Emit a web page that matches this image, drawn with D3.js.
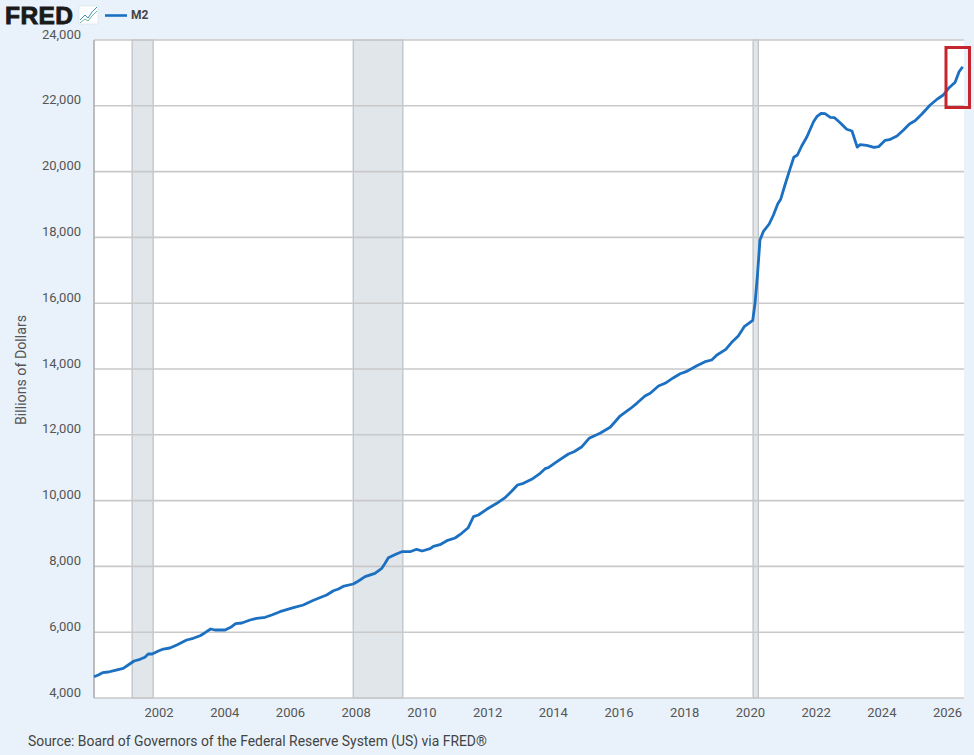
<!DOCTYPE html>
<html><head><meta charset="utf-8">
<script src="https://d3js.org/d3.v7.min.js"></script>
<style>html,body{margin:0;padding:0;background:#e9f2fa;overflow:hidden}svg{display:block;font-family:Roboto,sans-serif}</style>
</head><body><svg id="c" width="974" height="755"></svg>
<script>
const years=[2000.02,2000.15,2000.28,2000.46,2000.66,2000.91,2001.06,2001.24,2001.42,2001.57,2001.67,2001.79,2001.98,2002.13,2002.33,2002.54,2002.84,2003.04,2003.25,2003.40,2003.57,2003.70,2004.01,2004.21,2004.33,2004.52,2004.77,2004.97,2005.23,2005.43,2005.68,2006.09,2006.39,2006.70,2007.10,2007.31,2007.46,2007.63,2007.91,2008.07,2008.27,2008.57,2008.78,2008.88,2008.98,2009.24,2009.39,2009.64,2009.84,2010.01,2010.25,2010.35,2010.55,2010.76,2011.01,2011.21,2011.41,2011.57,2011.72,2011.97,2012.28,2012.53,2012.74,2012.91,2013.09,2013.34,2013.60,2013.75,2013.85,2014.11,2014.46,2014.63,2014.87,2015.09,2015.42,2015.73,2015.88,2016.03,2016.34,2016.54,2016.79,2016.95,2017.20,2017.40,2017.66,2017.86,2018.04,2018.37,2018.62,2018.82,2018.98,2019.25,2019.43,2019.63,2019.81,2020.07,2020.14,2020.21,2020.29,2020.39,2020.57,2020.70,2020.83,2020.92,2021.05,2021.21,2021.32,2021.43,2021.56,2021.72,2021.92,2022.02,2022.15,2022.27,2022.43,2022.56,2022.73,2022.93,2023.09,2023.25,2023.34,2023.54,2023.76,2023.90,2024.10,2024.23,2024.46,2024.66,2024.84,2025.01,2025.22,2025.47,2025.69,2025.87,2026.03,2026.23,2026.35,2026.46];
const m2=[4647,4699,4769,4790,4842,4903,5003,5125,5176,5237,5337,5337,5429,5489,5520,5611,5763,5815,5894,5985,6097,6067,6067,6167,6258,6280,6371,6422,6453,6523,6623,6745,6827,6970,7131,7261,7313,7404,7465,7556,7687,7790,7942,8094,8264,8386,8447,8447,8520,8468,8538,8611,8660,8781,8863,9006,9176,9511,9562,9735,9918,10088,10292,10474,10526,10647,10830,10970,11000,11182,11416,11486,11638,11893,12046,12228,12398,12571,12793,12957,13179,13261,13483,13565,13736,13857,13918,14100,14222,14274,14426,14598,14811,15003,15286,15480,15997,16805,17921,18173,18407,18681,19015,19158,19593,20100,20435,20505,20778,21061,21517,21669,21772,21760,21650,21638,21486,21286,21234,20745,20820,20799,20739,20757,20951,20970,21082,21264,21447,21547,21751,22024,22207,22328,22532,22714,23036,23188];
const recessionStart=[2001.18,2007.91,2020.08];
const recessionEnd=[2001.82,2009.42,2020.24];
const yTicks=[4000,6000,8000,10000,12000,14000,16000,18000,20000,22000,24000];
const xTicks=[2002,2004,2006,2008,2010,2012,2014,2016,2018,2020,2022,2024,2026];
const seriesName="M2";
const yTitle="Billions of Dollars";
const sourceText="Source: Board of Governors of the Federal Reserve System (US) via FRED®";

const L=94,R=964,T=40,B=698;
const x=d3.scaleLinear().domain([2000.02,2026.5]).range([L,R]);
const y=d3.scaleLinear().domain([4000,24000]).range([B,T]);
const svg=d3.select("#c");
svg.append("rect").attr("x",L).attr("y",T).attr("width",R-L).attr("height",B-T).attr("fill","#fff");
svg.selectAll(".rec").data(recessionStart).join("rect")
  .attr("x",d=>x(d)).attr("y",T).attr("width",(d,i)=>x(recessionEnd[i])-x(d)).attr("height",B-T)
  .attr("fill","#e1e6eb").attr("stroke","#bcbfc3").attr("stroke-width",1.2);
svg.selectAll(".grid").data(yTicks).join("line")
  .attr("x1",L).attr("x2",R).attr("y1",d=>y(d)).attr("y2",d=>y(d))
  .attr("stroke","#c9c9c9").attr("stroke-width",1.6);
svg.append("line").attr("x1",L).attr("x2",L).attr("y1",T).attr("y2",B).attr("stroke","#adadad").attr("stroke-width",1.6);
svg.selectAll(".yl").data(yTicks).join("text")
  .attr("x",81).attr("y",d=>y(d)-1.5).attr("text-anchor","end")
  .attr("font-size",13).attr("fill","#555").text(d=>d3.format(",")(d));
svg.selectAll(".xl").data(xTicks).join("text")
  .attr("x",d=>x(d)).attr("y",717).attr("text-anchor","middle")
  .attr("font-size",13).attr("fill","#555").text(d=>d);
svg.append("text").attr("transform","translate(26,370) rotate(-90)").attr("text-anchor","middle")
  .attr("font-size",14.2).attr("fill","#555").text(yTitle);
svg.append("path").datum(years.map((t,i)=>[t,m2[i]]))
  .attr("fill","none").attr("stroke","#1b70c2").attr("stroke-width",2.8).attr("stroke-linejoin","round")
  .attr("d",d3.line().x(d=>x(d[0])).y(d=>y(d[1])));
svg.append("rect").attr("x",946).attr("y",47.5).attr("width",23.5).attr("height",60)
  .attr("fill","none").attr("stroke","#c5252d").attr("stroke-width",3);
svg.append("text").attr("x",28).attr("y",746).attr("font-size",13.9).attr("fill","#444").text(sourceText);
// header
svg.append("text").attr("x",5).attr("y",24).attr("font-family","'Liberation Sans',sans-serif").attr("font-weight",700)
  .attr("font-size",24.5).attr("stroke","#1a1a1a").attr("stroke-width",.9).attr("fill","#1a1a1a").attr("textLength",68).text("FRED");
const ic=svg.append("g").attr("transform","translate(79,6)");
ic.append("rect").attr("width",19).attr("height",18).attr("fill","#fff").attr("stroke","#d5dde4").attr("stroke-width",.6);
ic.append("path").attr("d","M1 14L6 9L9 12L13 6L18 1").attr("fill","none").attr("stroke","#3e8fb8").attr("stroke-width",1);
ic.append("path").attr("d","M1 17L6 13L9 15L13 10L18 5").attr("fill","none").attr("stroke","#74b59c").attr("stroke-width",1);
svg.append("line").attr("x1",105).attr("x2",127).attr("y1",15.5).attr("y2",15.5).attr("stroke","#1b70c2").attr("stroke-width",2.6);
svg.append("text").attr("x",131).attr("y",19).attr("font-size",12).attr("font-weight",700).attr("fill","#444").text(seriesName);
</script></body></html>
